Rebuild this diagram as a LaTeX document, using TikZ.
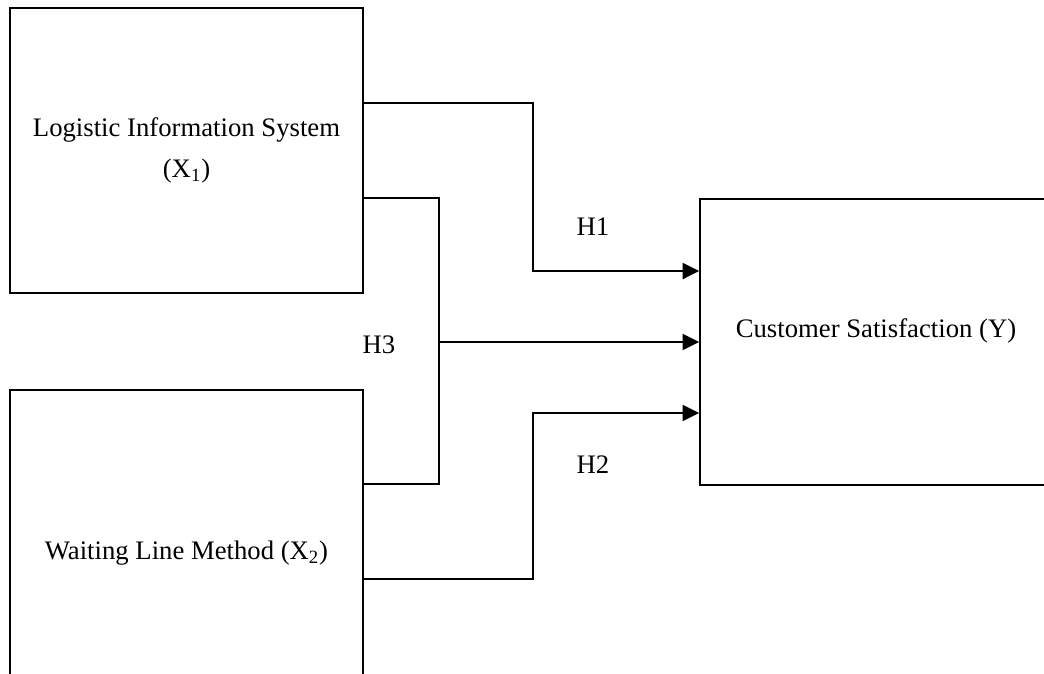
\documentclass[tikz,border=0pt]{standalone}
\usepackage{fontspec}
\setmainfont{Liberation Serif}
\usepackage{tikz}
\usetikzlibrary{arrows.meta,positioning}

\begin{document}
\begin{tikzpicture}[x=0.02cm, y=-0.02cm,
  var/.style={draw, line width=1pt, align=center, font=\fontsize{15.2}{23}\selectfont, inner sep=0pt},
  hyp/.style={font=\fontsize{15.2}{18}\selectfont, inner sep=0pt},
  link/.style={line width=1.2pt},
  arr/.style={link, -{Triangle[length=3.3mm, width=3.2mm]}}]
  \useasboundingbox (0,0) rectangle (1044,673);
  \node[var, minimum width=7.06cm, minimum height=5.7cm] (x1) at (186.5,150.5) {Logistic Information System\\(X\textsubscript{1})};
  \node[var, minimum width=7.06cm, minimum height=6.52cm] (x2) at (186.5,553) {Waiting Line Method (X\textsubscript{2})};
  \node[var, minimum width=7.04cm, minimum height=5.72cm] (y) at (876,342) {\raisebox{0.1cm}[0pt][0pt]{Customer Satisfaction (Y)}};
  \draw[arr] ([yshift=0.95cm]x1.east) -- ++(3.38cm,0) |- ([yshift=1.42cm]y.west);
  \draw[link] ([yshift=-0.95cm]x1.east) -- ++(1.5cm,0) coordinate (bus) |- ([yshift=-1.9cm]x2.north east);
  \draw[arr] (bus |- y.west) -- (y.west);
  \draw[arr] ([yshift=-3.8cm]x2.north east) -- ++(3.38cm,0) |- ([yshift=-1.42cm]y.west);
  \node[hyp] (h1) at (593,227) {H1};
  \node[hyp] (h3) at (379,345) {H3};
  \node[hyp] (h2) at (593,465) {H2};
\end{tikzpicture}
\end{document}
